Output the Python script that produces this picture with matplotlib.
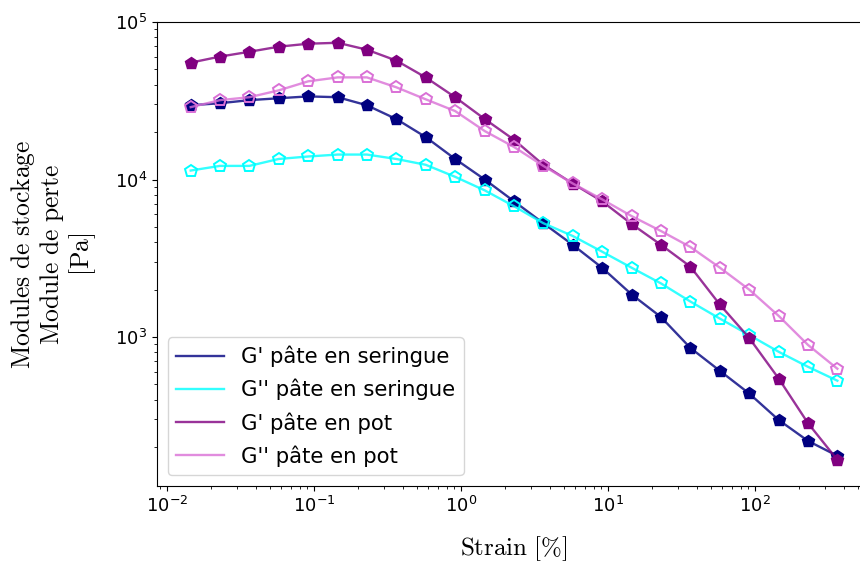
import matplotlib
matplotlib.use("Agg")
import matplotlib.pyplot as plt

# strain [%]
strain = [0.0145, 0.0229, 0.0363, 0.0575, 0.0912, 0.145, 0.229, 0.363, 0.575,
          0.912, 1.45, 2.29, 3.63, 5.75, 9.12, 14.5, 22.9, 36.3, 57.5, 91.2,
          145, 229, 363]

# moduli [Pa]
g1_ser = [29600, 30500, 31900, 32800, 33700, 33300, 29600, 24200, 18600, 13500,
          10000, 7280, 5280, 3850, 2750, 1860, 1340, 853, 611, 438, 297, 219, 176]
g2_ser = [11400, 12200, 12200, 13500, 14000, 14400, 14400, 13500, 12400, 10400,
          8530, 6770, 5280, 4380, 3480, 2750, 2190, 1680, 1310, 1030, 805, 647, 528]
g1_pot = [55200, 60300, 64700, 69700, 72800, 73800, 66700, 56900, 44500, 33300,
          24200, 17900, 12400, 9430, 7270, 5210, 3850, 2800, 1610, 987, 544, 284, 166]
g2_pot = [28800, 31900, 33300, 36800, 42000, 44500, 44500, 38500, 32300, 27200,
          20300, 16100, 12200, 9440, 7480, 5850, 4710, 3730, 2760, 2000, 1360, 891, 629]

series = [
    (g1_ser, "navy", True, "G' pâte en seringue"),
    (g2_ser, "cyan", False, "G'' pâte en seringue"),
    (g1_pot, "purple", True, "G' pâte en pot"),
    (g2_pot, "orchid", False, "G'' pâte en pot"),
]

fig = plt.figure(figsize=(8.6, 5.61), dpi=100)
# axes runs a bit past the right edge (cropped figure)
ax = fig.add_axes([157 / 860, 1 - 486 / 561, (870 - 157) / 860, (486 - 22) / 561])

for y, col, filled, lab in series:
    ax.plot(strain, y, color=col, lw=1.7, alpha=0.8, label=lab)
    if filled:
        ax.plot(strain, y, ls='none', marker='p', ms=9, color=col)
    else:
        ax.plot(strain, y, ls='none', marker='p', ms=9, mfc='none', mec=col, mew=1.4)

ax.set_xscale('log')
ax.set_yscale('log')
ax.set_xlim(10 ** -2.068, 10 ** 2.782)
ax.set_ylim(10 ** 2.054, 10 ** 5.0)
ax.tick_params(labelsize=13)

ax.set_xlabel(r'$\mathrm{Strain\ [\%]}$', fontsize=18, math_fontfamily='cm', labelpad=13)
ax.set_ylabel('$\\mathrm{Modules\\ de\\ stockage}$\n$\\mathrm{Module\\ de\\ perte}$\n$\\mathrm{[Pa]}$',
              fontsize=18.4, math_fontfamily='cm', linespacing=1.05, labelpad=12)

ax.legend(loc='lower left', fontsize=15.3, handlelength=2.25, labelspacing=0.55)

fig.savefig('out.png', dpi=100)
